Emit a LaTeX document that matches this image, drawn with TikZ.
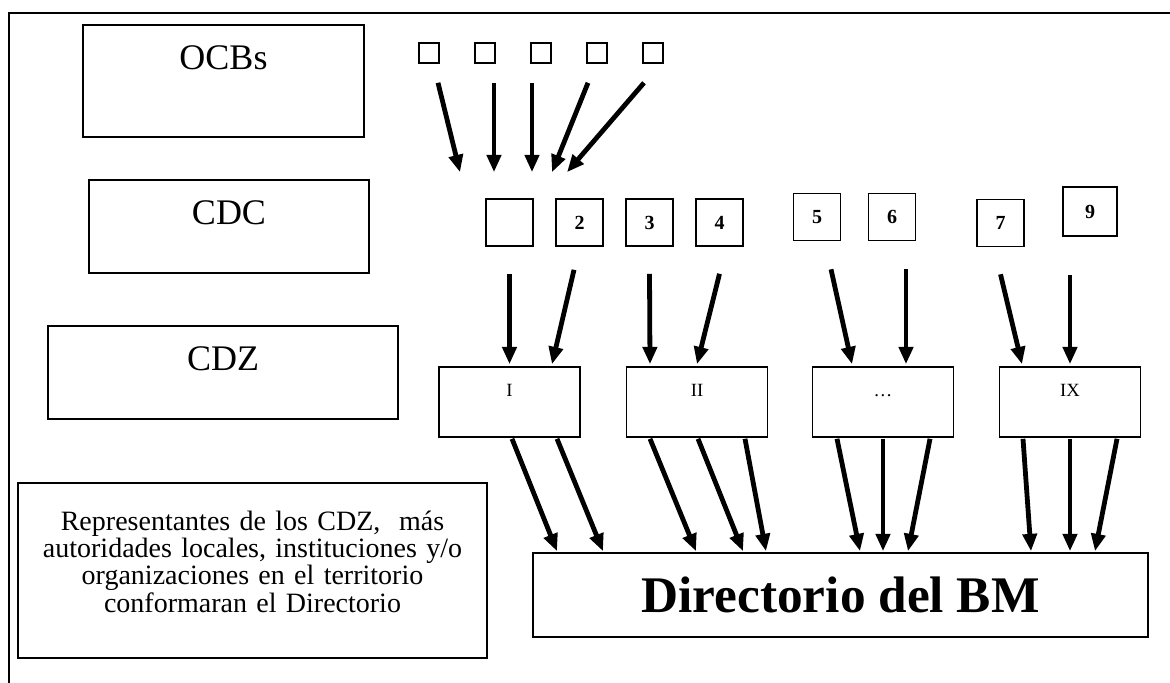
\documentclass[tikz,border=0pt]{standalone}
\usepackage{fontspec}
\setmainfont{Liberation Serif}
\usetikzlibrary{arrows.meta,calc}

\begin{document}
\begin{tikzpicture}[x=0.75pt,y=-0.75pt,
  box/.style={draw,line width=1.2pt,inner sep=0pt},
  tinysq/.style={box,minimum size=15pt},
  numsq/.style={box,minimum size=35.25pt,font=\fontsize{15}{15}\selectfont\bfseries},
  zone/.style={box,minimum width=105.75pt,minimum height=52.5pt},
  bigtext/.style={anchor=base,font=\fontsize{27}{27}\selectfont},
  zonetext/.style={anchor=base,font=\fontsize{14}{14}\selectfont},
  arr/.style={line width=3.6pt,-{Triangle[length=13pt,width=10.5pt]}}]
\useasboundingbox (0,0) rectangle (1170,682);
\draw[line width=1.5pt] (9,690) -- (9,13) -- (1180,13);

% levels on the left
\node[box,minimum width=210.75pt,minimum height=84pt] (ocbs) at (223.5,81) {};
\node[bigtext] at ($(ocbs.north)+(0,45)$) {OCBs};
\node[box,minimum width=210pt,minimum height=69.75pt] (cdc) at (229,226.5) {};
\node[bigtext] at ($(cdc.north)+(0,45)$) {CDC};
\node[box,minimum width=262.5pt,minimum height=69.75pt] (cdz) at (223,372.5) {};
\node[bigtext] at ($(cdz.north)+(0,45)$) {CDZ};

% OCBs
\foreach \n/\x in {1/429,2/485,3/541,4/597,5/653}
  {\node[tinysq] (o\n) at (\x,53) {};}

% CDC
\node[numsq] (c1) at (509.5,222.5) {};
\foreach \n/\x/\y in {2/579.5/222.5,3/649.5/222.5,4/719.5/222.5,5/817/217,6/892/217,7/1000.5/223}
  {\node[numsq] (c\n) at (\x,\y) {\n};}
\node[numsq,minimum width=40.5pt,minimum height=36.75pt] (c9) at (1090,211.5) {9};

\foreach \n/\dx/\ex in {1/9/-49.5,2/9/-15.5,3/-9/22.5,4/-9/42.5,5/-9/57.5}
  {\draw[arr] ($(o\n.south)+(\dx,19)$) -- ($(c1.north)+(\ex,-26)$);}

% CDZ
\foreach \n/\x/\t in {I/509.5/I,II/697/II,D/883/…,IX/1070/IX}
  {\node[zone] (z\n) at (\x,402) {};
   \node[zonetext] at ($(z\n.north)+(0,30)$) {\t};}

\foreach \s/\dx/\dy/\z/\ex in {1/0/27/I/0,2/-5.5/23/I/42.5,3/0/27/II/-47,4/0/27/II/0,5/14/28/D/-31,6/14/28/D/23,7/0/27/IX/-48,9/-20/38/IX/0}
  {\draw[arr] ($(c\s.south)+(\dx,\dy)$) -- ($(z\z.north)+(\ex,-2)$);}

% Directorio
\node[box,minimum width=461.25pt,minimum height=63pt,font=\fontsize{38.5}{38.5}\selectfont\bfseries] (dir) at (840.5,595) {Directorio del BM};

\foreach \z/\dx/\ex in {I/2.5/-283.5,I/47.5/-237.5,II/-47/-144.5,II/1/-97.5,II/48/-74.5,D/-46/19.5,D/0/42.5,D/47/67.5,IX/-47/190.5,IX/0/229.5,IX/47/254.5}
  {\draw[arr] ($(z\z.south)+(\dx,1)$) -- ($(dir.north)+(\ex,-1)$);}

\node[box,minimum width=351.75pt,minimum height=131.25pt] (rep) at (252.5,570.5) {};
\node[text width=345pt,align=center,inner sep=0pt,font=\fontsize{21}{20.5}\selectfont] at ($(rep.center)+(0,-9)$) {Representantes de los CDZ,~ más\\autoridades locales, instituciones y/o\\organizaciones en el territorio\\conformaran el Directorio};
\end{tikzpicture}
\end{document}
